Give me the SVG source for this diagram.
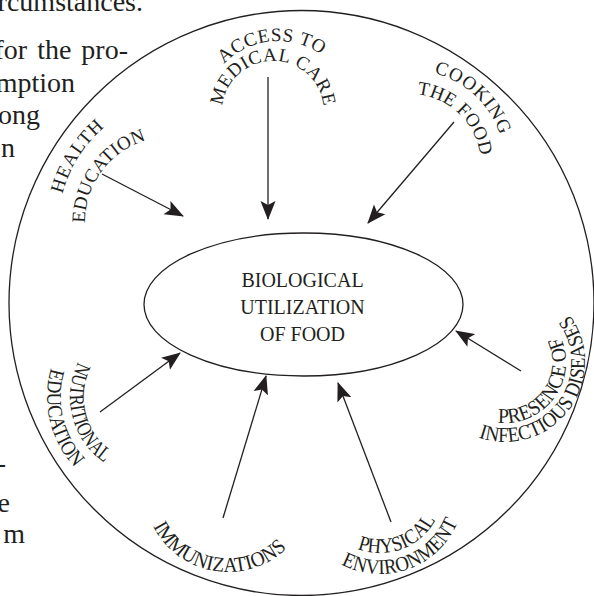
<svg xmlns="http://www.w3.org/2000/svg" width="594" height="596" viewBox="0 0 594 596">
  <style>
    .ink { fill: none; stroke: #231f20; stroke-width: 1.3; }
    .page { font-family: "Liberation Serif", "Times New Roman", serif; font-size: 28px; fill: #231f20; }
    .core { font-family: "Liberation Serif", "Times New Roman", serif; font-size: 20px; fill: #231f20; text-anchor: middle; }
    .arc { font-family: "Liberation Serif", "Times New Roman", serif; font-size: 19px; fill: #231f20; text-anchor: middle; }
    .arc-in { font-family: "Liberation Serif", "Times New Roman", serif; font-size: 21px; fill: #231f20; text-anchor: middle; }
    .conn line { stroke: #231f20; stroke-width: 1.3; marker-end: url(#head); }
  </style>
  <defs>
    <marker id="head" viewBox="0 -8 20 16" markerWidth="20" markerHeight="16" refX="18" refY="0" orient="auto" markerUnits="userSpaceOnUse">
      <path d="M0,-7.5 L19,0 L0,7.5 L4,0 Z" fill="#231f20"/>
    </marker>
    <!-- baselines for the curved labels (upper ones run clockwise, lower ones counter-clockwise) -->
    <path id="p-access" d="M223.15,64.85 A75,75 0 0 1 322.08,55.32"/>
    <path id="p-medical" d="M222.27,106.67 A51,51 0 0 1 323.72,106.67"/>
    <path id="p-cooking" d="M433.0,72.82 A95,95 0 0 1 500.35,135.64"/>
    <path id="p-thefood" d="M416.19,94.27 A71,71 0 0 1 480.47,156.35"/>
    <path id="p-health" d="M62,196 A130,130 0 0 1 106,126"/>
    <path id="p-healthedu" d="M85.01,223.48 A85,85 0 0 1 146.57,140.29"/>
    <path id="p-nutri" d="M78.72,360.68 A80,80 0 0 0 105.26,463.32"/>
    <path id="p-nutriedu" d="M51.50,366.88 A103,103 0 0 0 75.91,468.55"/>
    <path id="p-immun" d="M152.69,525.22 A84,84 0 0 0 287.40,547.40"/>
    <path id="p-physical" d="M356.81,548.58 A63,63 0 0 0 435.73,519.38"/>
    <path id="p-environ" d="M340.82,564.31 A84,84 0 0 0 457.72,521.88"/>
    <path id="p-presence" d="M496.93,422.46 A61,61 0 0 0 560.15,335.93"/>
    <path id="p-infect" d="M477.90,437.27 A80,80 0 0 0 569.14,314.19"/>
  </defs>

  <rect width="594" height="596" fill="#ffffff"/>

  <!-- running text of the page, cut by the left margin -->
  <g id="page-text" class="page" text-anchor="end">
    <text x="143" y="11">rcumstances.</text>
    <text x="128" y="59" word-spacing="3">for the pro-</text>
    <text x="75" y="91.5">mption</text>
    <text x="40" y="124">ong</text>
    <text x="15" y="156.5">n</text>
    <text x="6" y="472">-</text>
    <text x="10" y="512">e</text>
    <text x="25" y="543">m</text>
  </g>

  <!-- outer boundary -->
  <g id="boundary">
    <circle class="ink" cx="301.5" cy="303" r="292.5"/>
  </g>

  <!-- central node -->
  <g id="node-core">
    <ellipse class="ink" cx="303.5" cy="304.5" rx="159.5" ry="71.5"/>
    <text class="core" x="302.5" y="287">BIOLOGICAL</text>
    <text class="core" x="302.5" y="314">UTILIZATION</text>
    <text class="core" x="302.5" y="341">OF FOOD</text>
  </g>

  <g id="node-medical" class="arc">
    <text><textPath href="#p-access" startOffset="50%" textLength="106" lengthAdjust="spacing">ACCESS TO</textPath></text>
    <text><textPath href="#p-medical" startOffset="50%" textLength="148" lengthAdjust="spacing">MEDICAL CARE</textPath></text>
  </g>

  <g id="node-cooking" class="arc">
    <text><textPath href="#p-cooking" startOffset="50%" textLength="94" lengthAdjust="spacing">COOKING</textPath></text>
    <text><textPath href="#p-thefood" startOffset="50%" textLength="95" lengthAdjust="spacing">THE FOOD</textPath></text>
  </g>

  <g id="node-health" class="arc">
    <text><textPath href="#p-health" startOffset="50%" textLength="80" lengthAdjust="spacing">HEALTH</textPath></text>
    <text><textPath href="#p-healthedu" startOffset="50%" textLength="110" lengthAdjust="spacing">EDUCATION</textPath></text>
  </g>

  <g id="node-nutrition" class="arc-in">
    <text><textPath href="#p-nutri" startOffset="50%" textLength="113" lengthAdjust="spacingAndGlyphs">NUTRITIONAL</textPath></text>
    <text><textPath href="#p-nutriedu" startOffset="50%" textLength="107" lengthAdjust="spacingAndGlyphs">EDUCATION</textPath></text>
  </g>

  <g id="node-immunizations" class="arc-in">
    <text><textPath href="#p-immun" startOffset="50%" textLength="157" lengthAdjust="spacingAndGlyphs">IMMUNIZATIONS</textPath></text>
  </g>

  <g id="node-environment" class="arc-in">
    <text><textPath href="#p-physical" startOffset="50%" textLength="91" lengthAdjust="spacingAndGlyphs">PHYSICAL</textPath></text>
    <text><textPath href="#p-environ" startOffset="50%" textLength="139" lengthAdjust="spacingAndGlyphs">ENVIRONMENT</textPath></text>
  </g>

  <g id="node-diseases" class="arc-in">
    <text><textPath href="#p-presence" startOffset="50%" textLength="129" lengthAdjust="spacingAndGlyphs">PRESENCE OF</textPath></text>
    <text><textPath href="#p-infect" startOffset="50%" textLength="203" lengthAdjust="spacingAndGlyphs">INFECTIOUS DISEASES</textPath></text>
  </g>

  <!-- connectors: every factor points at the central node -->
  <g id="connectors" class="conn">
    <line x1="102" y1="174" x2="183" y2="216"/>
    <line x1="268" y1="77" x2="268" y2="219"/>
    <line x1="454" y1="122" x2="368" y2="223"/>
    <line x1="521" y1="371" x2="456" y2="331"/>
    <line x1="391" y1="522" x2="338" y2="383"/>
    <line x1="223" y1="518" x2="266" y2="376"/>
    <line x1="100" y1="412" x2="180" y2="353"/>
  </g>
</svg>
